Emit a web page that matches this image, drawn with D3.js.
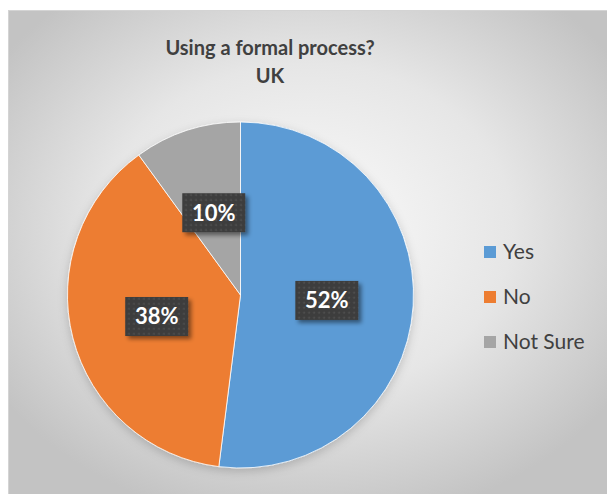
<!DOCTYPE html>
<html>
<head>
<meta charset="utf-8">
<script src="https://cdn.jsdelivr.net/npm/d3@7"></script>
<style>
  html, body { margin: 0; padding: 0; background: #ffffff; }
  svg { display: block; }
</style>
</head>
<body>
<svg id="chart" width="607" height="494"></svg>
<script>
// Survey answers: share of respondents (%)
const categories = ["Yes", "No", "Not Sure"];
const values = [52, 38, 10];
const colors = ["#5b9bd5", "#ed7d31", "#a5a5a5"];
const titleLines = ["Using a formal process?", "UK"];

const W = 607, H = 494;
const svg = d3.select("#chart");
const defs = svg.append("defs");

// Soft radial backdrop of the chart area
const bg = defs.append("radialGradient")
  .attr("id", "bgGrad").attr("cx", "50%").attr("cy", "45%").attr("r", "62%");
bg.append("stop").attr("offset", "0%").attr("stop-color", "#fbfbfb");
bg.append("stop").attr("offset", "55%").attr("stop-color", "#e6e6e6");
bg.append("stop").attr("offset", "100%").attr("stop-color", "#c3c3c3");

// Dotted dark fill for the data labels
const pat = defs.append("pattern")
  .attr("id", "dots").attr("patternUnits", "userSpaceOnUse")
  .attr("width", 5).attr("height", 5);
pat.append("rect").attr("width", 5).attr("height", 5).attr("fill", "#3d3d3d");
pat.append("rect").attr("x", 1.5).attr("y", 1.5).attr("width", 1.6).attr("height", 1.6).attr("fill", "#545454");

const shadow = defs.append("filter").attr("id", "boxShadow")
  .attr("x", "-20%").attr("y", "-20%").attr("width", "150%").attr("height", "160%");
shadow.append("feDropShadow").attr("dx", 3).attr("dy", 3).attr("stdDeviation", 2)
  .attr("flood-color", "#000").attr("flood-opacity", 0.45);

const pieShadow = defs.append("filter").attr("id", "pieShadow")
  .attr("x", "-20%").attr("y", "-20%").attr("width", "140%").attr("height", "140%");
pieShadow.append("feDropShadow").attr("dx", 0).attr("dy", 3).attr("stdDeviation", 5)
  .attr("flood-color", "#000").attr("flood-opacity", 0.18);

// Chart area
svg.append("rect")
  .attr("x", 8.5).attr("y", 10.5).attr("width", W - 8).attr("height", H - 10)
  .attr("fill", "url(#bgGrad)").attr("stroke", "#d4d4d4").attr("stroke-width", 1);

// Title
const font = "Lato, 'Open Sans', sans-serif";
svg.append("g").selectAll("text").data(titleLines).join("text")
  .attr("x", 270).attr("y", (d, i) => 55 + i * 28)
  .attr("text-anchor", "middle")
  .attr("font-family", font).attr("font-weight", 700).attr("font-size", 20)
  .attr("fill", "#404040")
  .text(d => d);

// Pie
const cx = 240.5, cy = 295, R = 173;
const pie = d3.pie().sort(null).value(d => d)(values);
const arc = d3.arc().innerRadius(0).outerRadius(R);
const labelArc = d3.arc().innerRadius(0).outerRadius(R);

const g = svg.append("g").attr("transform", `translate(${cx},${cy})`);
g.append("g").attr("filter", "url(#pieShadow)")
  .selectAll("path").data(pie).join("path")
  .attr("d", arc)
  .attr("fill", (d, i) => colors[i])
  .attr("stroke", "#ffffff").attr("stroke-width", 0.8);

// Data labels
const bw = 63, bh = 39;
const lab = g.append("g").selectAll("g").data(pie).join("g")
  .attr("transform", d => {
    const [x, y] = labelArc.centroid(d);
    return `translate(${x},${y})`;
  });
lab.append("rect")
  .attr("x", -bw / 2).attr("y", -bh / 2).attr("width", bw).attr("height", bh)
  .attr("fill", "url(#dots)").attr("filter", "url(#boxShadow)");
lab.append("text")
  .attr("text-anchor", "middle").attr("dy", "0.36em")
  .attr("font-family", font).attr("font-weight", 700).attr("font-size", 22)
  .attr("fill", "#ffffff")
  .text(d => d.data + "%");

// Legend
const legend = svg.append("g").attr("transform", "translate(484,252)");
const item = legend.selectAll("g").data(categories).join("g")
  .attr("transform", (d, i) => `translate(0,${i * 45})`);
item.append("rect")
  .attr("x", 0).attr("y", -6).attr("width", 12).attr("height", 12)
  .attr("fill", (d, i) => colors[i]);
item.append("text")
  .attr("x", 19).attr("dy", "0.35em")
  .attr("font-family", font).attr("font-size", 21)
  .attr("fill", "#404040")
  .text(d => d);
</script>
</body>
</html>
